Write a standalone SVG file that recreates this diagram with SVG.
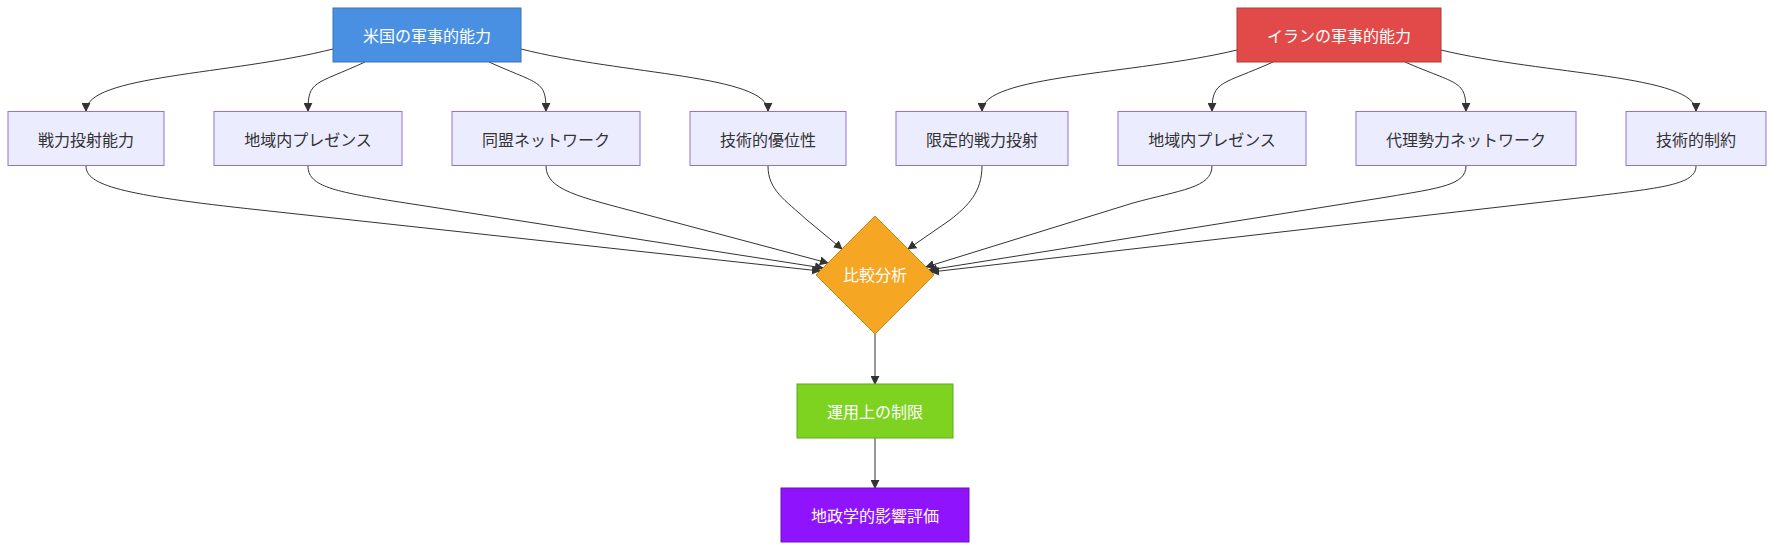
<svg xmlns="http://www.w3.org/2000/svg" width="1774" height="550" viewBox="0 0 1774 550">
<style>
  text { font-family: "Noto Sans CJK JP", "Noto Sans", sans-serif; font-size: 16px; text-anchor: middle; dominant-baseline: central; }
  .def rect { fill: #ECECFF; stroke: #9370DB; stroke-width: 1; }
  .def text { fill: #333333; }
  .light text { fill: #ffffff; }
  .edge { fill: none; stroke: #333333; stroke-width: 1; marker-end: url(#arrow); }
</style>
<defs>
  <marker id="arrow" viewBox="0 0 10 10" refX="9" refY="5" markerUnits="userSpaceOnUse" markerWidth="9" markerHeight="9" orient="auto">
    <path d="M0,0 L10,5 L0,10 z" fill="#333333"/>
  </marker>
</defs>
<rect width="1774" height="550" fill="#ffffff"/>
<g id="connectors">
  <path class="edge" d="M333,49 C230,75 86,75 86,111"/>
  <path class="edge" d="M365,62 C315,85 308,80 308,111"/>
  <path class="edge" d="M489,62 C540,85 546,80 546,111"/>
  <path class="edge" d="M521,49 C624,75 768,75 768,111"/>
  <path class="edge" d="M1237,50 C1133,75 982,75 982,111"/>
  <path class="edge" d="M1273,62 C1222,85 1212,80 1212,111"/>
  <path class="edge" d="M1405,62 C1458,85 1466,80 1466,111"/>
  <path class="edge" d="M1441,50 C1545,75 1696,75 1696,111"/>
  <path class="edge" d="M86,166 C86,185 120,195 260,210 L820,271"/>
  <path class="edge" d="M308,166 C308,185 330,191 393,201 L823,268"/>
  <path class="edge" d="M546,166 C546,190 580,197 640,213 L828,263"/>
  <path class="edge" d="M768,166 C768,190 785,200 807,220 L842,249"/>
  <path class="edge" d="M982,166 C982,192 968,206 950,220 L908,249"/>
  <path class="edge" d="M1212,166 C1212,188 1180,190 1133,203 L926,267"/>
  <path class="edge" d="M1466,166 C1466,185 1440,188 1387,197 L929,270"/>
  <path class="edge" d="M1696,166 C1696,185 1660,188 1587,197 L931,272"/>
  <path class="edge" d="M875,334 L875,384"/>
  <path class="edge" d="M875,438 L875,488"/>
</g>
<g id="us" class="light">
  <rect x="333" y="8" width="188" height="54" fill="#4A90E2" stroke="#3A75B8" stroke-width="1"/>
  <text x="427" y="35">米国の軍事的能力</text>
</g>
<g id="iran" class="light">
  <rect x="1237" y="8" width="204" height="54" fill="#E24A4A" stroke="#B03A3A" stroke-width="1"/>
  <text x="1339" y="35">イランの軍事的能力</text>
</g>
<g id="us_power" class="def">
  <rect x="8" y="111.5" width="156" height="54"/>
  <text x="86" y="138.5">戦力投射能力</text>
</g>
<g id="us_presence" class="def">
  <rect x="214" y="111.5" width="188" height="54"/>
  <text x="308" y="138.5">地域内プレゼンス</text>
</g>
<g id="us_alliance" class="def">
  <rect x="452" y="111.5" width="188" height="54"/>
  <text x="546" y="138.5">同盟ネットワーク</text>
</g>
<g id="us_tech" class="def">
  <rect x="690" y="111.5" width="156" height="54"/>
  <text x="768" y="138.5">技術的優位性</text>
</g>
<g id="ir_power" class="def">
  <rect x="896" y="111.5" width="172" height="54"/>
  <text x="982" y="138.5">限定的戦力投射</text>
</g>
<g id="ir_presence" class="def">
  <rect x="1118" y="111.5" width="188" height="54"/>
  <text x="1212" y="138.5">地域内プレゼンス</text>
</g>
<g id="ir_proxy" class="def">
  <rect x="1356" y="111.5" width="220" height="54"/>
  <text x="1466" y="138.5">代理勢力ネットワーク</text>
</g>
<g id="ir_tech" class="def">
  <rect x="1626" y="111.5" width="140" height="54"/>
  <text x="1696" y="138.5">技術的制約</text>
</g>
<g id="compare" class="light">
  <polygon points="875,216 934,275 875,334 816,275" fill="#F5A623" stroke="#C98A1C" stroke-width="1"/>
  <text x="875" y="274">比較分析</text>
</g>
<g id="ops" class="light">
  <rect x="797" y="384" width="156" height="54" fill="#7ED321" stroke="#62A818" stroke-width="1"/>
  <text x="875" y="411">運用上の制限</text>
</g>
<g id="geo" class="light">
  <rect x="781" y="488" width="188" height="54" fill="#9013FE" stroke="#6E0FC4" stroke-width="1"/>
  <text x="875" y="515">地政学的影響評価</text>
</g>
</svg>
